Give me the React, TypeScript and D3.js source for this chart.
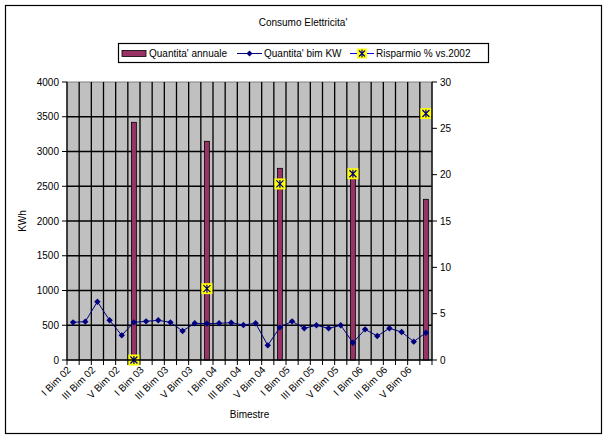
import React, { useEffect, useRef } from "react";
import * as d3 from "d3";

const categories = [
  "I Bim 02", "II Bim 02", "III Bim 02", "IV Bim 02", "V Bim 02", "VI Bim 02",
  "I Bim 03", "II Bim 03", "III Bim 03", "IV Bim 03", "V Bim 03", "VI Bim 03",
  "I Bim 04", "II Bim 04", "III Bim 04", "IV Bim 04", "V Bim 04", "VI Bim 04",
  "I Bim 05", "II Bim 05", "III Bim 05", "IV Bim 05", "V Bim 05", "VI Bim 05",
  "I Bim 06", "II Bim 06", "III Bim 06", "IV Bim 06", "V Bim 06", "VI Bim 06",
];

// Quantita' bim KW (one per bimester)
const bimKw = [
  542, 552, 839, 571, 355, 542,
  556, 571, 542, 417, 528, 523,
  528, 537, 504, 528, 211, 470,
  556, 456, 499, 456, 499, 249,
  441, 345, 456, 403, 264, 393,
];

// Quantita' annuale and Risparmio % vs. 2002 (only at the last bimester of each year)
const annualCats = ["VI Bim 02", "VI Bim 03", "VI Bim 04", "VI Bim 05", "VI Bim 06"];
const annualKwh = [3420, 3147, 2758, 2715, 2312];
const savingsPct = [0, 7.7, 19.0, 20.1, 26.6];

const leftTicks = [0, 500, 1000, 1500, 2000, 2500, 3000, 3500, 4000];
const rightTicks = [0, 5, 10, 15, 20, 25, 30];
const shownLabels = categories.filter((_, i) => i % 2 === 0);

const FONT = "'Liberation Sans', Arial, sans-serif";

export default function App() {
  const ref = useRef<SVGSVGElement>(null);

  useEffect(() => {
    if (!ref.current) return;
    const svg = d3.select(ref.current);
    svg.selectAll("*").remove();

    const left = 67, right = 432, top = 82, bottom = 360;

    const x = d3.scaleBand().domain(categories).range([left, right]).padding(0);
    const yL = d3.scaleLinear().domain([0, 4000]).range([bottom, top]);
    const yR = d3.scaleLinear().domain([0, 30]).range([bottom, top]);
    const cx = (c: string) => x(c)! + x.bandwidth() / 2;

    // chart area
    svg.append("rect").attr("x", 0).attr("y", 0).attr("width", 608).attr("height", 439).attr("fill", "#fff");
    svg.append("rect").attr("x", 5.5).attr("y", 5.5).attr("width", 596).attr("height", 428)
      .attr("fill", "none").attr("stroke", "#000").attr("stroke-width", 1.2);

    // title
    svg.append("text").attr("x", 303).attr("y", 26).attr("text-anchor", "middle")
      .attr("font-family", FONT).attr("font-size", 10).text("Consumo Elettricita'");

    // plot area
    svg.append("rect").attr("x", left).attr("y", top).attr("width", right - left).attr("height", bottom - top)
      .attr("fill", "#c0c0c0").attr("stroke", "#808080").attr("stroke-width", 1);

    // gridlines
    const g = svg.append("g").attr("stroke", "#000").attr("stroke-width", 1.3);
    leftTicks.slice(1, -1).forEach((t) => {
      g.append("line").attr("x1", left).attr("x2", right).attr("y1", yL(t)).attr("y2", yL(t));
    });
    categories.slice(1).forEach((c) => {
      g.append("line").attr("x1", x(c)!).attr("x2", x(c)!).attr("y1", top).attr("y2", bottom);
    });

    // bars
    const bw = x.bandwidth() / 2.5;
    svg.append("g").selectAll("rect").data(annualCats).enter().append("rect")
      .attr("x", (c) => cx(c) - bw / 2)
      .attr("y", (c, i) => yL(annualKwh[i]))
      .attr("width", bw)
      .attr("height", (c, i) => bottom - yL(annualKwh[i]))
      .attr("fill", "#993366").attr("stroke", "#000").attr("stroke-width", 0.8);

    // line series
    const line = d3.line<number>().x((d, i) => cx(categories[i])).y((d) => yL(d));
    svg.append("path").datum(bimKw).attr("d", line).attr("fill", "none")
      .attr("stroke", "#000080").attr("stroke-width", 1);
    const diamond = (px: number, py: number, s: number) =>
      `M${px},${py - s}L${px + s},${py}L${px},${py + s}L${px - s},${py}Z`;
    svg.append("g").selectAll("path").data(bimKw).enter().append("path")
      .attr("d", (d, i) => diamond(cx(categories[i]), yL(d), 3.2))
      .attr("fill", "#000080");

    // star markers
    const star = (sel: d3.Selection<SVGGElement, unknown, null, undefined>, px: number, py: number) => {
      sel.append("rect").attr("x", px - 5.5).attr("y", py - 5.5).attr("width", 11).attr("height", 11).attr("fill", "#ffff00");
      const s = 3.5;
      sel.append("path")
        .attr("d", `M${px - s},${py - s}L${px + s},${py + s}M${px - s},${py + s}L${px + s},${py - s}M${px},${py - s - 0.5}L${px},${py + s + 0.5}`)
        .attr("stroke", "#000080").attr("stroke-width", 1.2).attr("fill", "none");
    };
    const sg = svg.append("g");
    annualCats.forEach((c, i) => star(sg, cx(c), yR(savingsPct[i])));

    // axes
    const ax = svg.append("g").attr("font-family", FONT).attr("font-size", 10);
    ax.append("line").attr("x1", left).attr("x2", left).attr("y1", top).attr("y2", bottom).attr("stroke", "#000").attr("stroke-width", 1.3);
    ax.append("line").attr("x1", right).attr("x2", right).attr("y1", top).attr("y2", bottom).attr("stroke", "#000").attr("stroke-width", 1.3);
    ax.append("line").attr("x1", left).attr("x2", right).attr("y1", bottom).attr("y2", bottom).attr("stroke", "#000").attr("stroke-width", 1.3);

    leftTicks.forEach((t) => {
      ax.append("line").attr("x1", left - 5).attr("x2", left).attr("y1", yL(t)).attr("y2", yL(t)).attr("stroke", "#000");
      ax.append("text").attr("x", left - 8).attr("y", yL(t)).attr("dy", "0.35em").attr("text-anchor", "end").text(t);
    });
    rightTicks.forEach((t) => {
      ax.append("line").attr("x1", right).attr("x2", right + 5).attr("y1", yR(t)).attr("y2", yR(t)).attr("stroke", "#000");
      ax.append("text").attr("x", right + 8).attr("y", yR(t)).attr("dy", "0.35em").attr("text-anchor", "start").text(t);
    });
    [...categories, null].forEach((c) => {
      const px = c === null ? right : x(c)!;
      ax.append("line").attr("x1", px).attr("x2", px).attr("y1", bottom).attr("y2", bottom + 5).attr("stroke", "#000");
    });
    shownLabels.forEach((c) => {
      ax.append("text")
        .attr("transform", `translate(${cx(c) - 4},${bottom + 8}) rotate(-45)`)
        .attr("text-anchor", "end").attr("dy", "0.35em").text(c);
    });

    ax.append("text").attr("transform", `translate(26,${(top + bottom) / 2}) rotate(-90)`)
      .attr("text-anchor", "middle").text("KWh");
    ax.append("text").attr("x", (left + right) / 2).attr("y", 418).attr("text-anchor", "middle").text("Bimestre");

    // legend
    const lg = svg.append("g").attr("font-family", FONT).attr("font-size", 10);
    lg.append("rect").attr("x", 118.5).attr("y", 43.5).attr("width", 370).attr("height", 19)
      .attr("fill", "#fff").attr("stroke", "#000").attr("stroke-width", 1.2);
    const ly = 53.5;
    lg.append("rect").attr("x", 122).attr("y", ly - 3).attr("width", 24).attr("height", 6)
      .attr("fill", "#993366").attr("stroke", "#000").attr("stroke-width", 0.8);
    lg.append("text").attr("x", 149).attr("y", ly).attr("dy", "0.35em").text("Quantita' annuale");
    lg.append("line").attr("x1", 237).attr("x2", 262).attr("y1", ly).attr("y2", ly).attr("stroke", "#000080");
    lg.append("path").attr("d", diamond(249.5, ly, 3)).attr("fill", "#000080");
    lg.append("text").attr("x", 264).attr("y", ly).attr("dy", "0.35em").text("Quantita' bim KW");
    lg.append("line").attr("x1", 350).attr("x2", 374).attr("y1", ly).attr("y2", ly).attr("stroke", "#0000ff");
    const lgs = lg.append("g");
    lgs.append("rect").attr("x", 357).attr("y", ly - 5).attr("width", 10).attr("height", 10).attr("fill", "#ffff00");
    lgs.append("path").attr("d", `M359,${ly - 3}L365,${ly + 3}M359,${ly + 3}L365,${ly - 3}M362,${ly - 4}L362,${ly + 4}`)
      .attr("stroke", "#000080").attr("stroke-width", 1.1);
    lg.append("text").attr("x", 376).attr("y", ly).attr("dy", "0.35em").text("Risparmio % vs.2002");
  }, []);

  return (
    <svg ref={ref} width={608} height={439} style={{ position: "absolute", left: 0, top: 0 }} />
  );
}
